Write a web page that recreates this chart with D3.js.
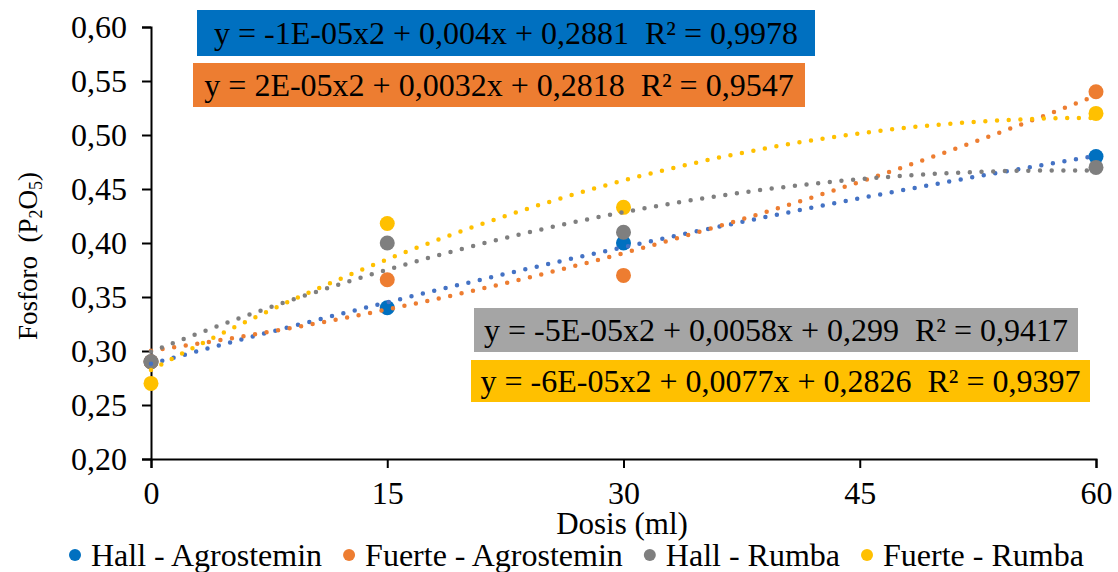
<!DOCTYPE html>
<html>
<head>
<meta charset="utf-8">
<script src="https://cdn.jsdelivr.net/npm/d3@7"></script>
<style>
  html, body { margin: 0; padding: 0; background: #fff; }
  svg { display: block; font-family: "Liberation Serif", "Times New Roman", serif; }
  text { white-space: pre; }
</style>
</head>
<body>
<svg id="chart" width="1118" height="572"></svg>
<script>
// Doses (ml) and phosphorus content per treatment
const doses = [0, 15, 30, 60];
const seriesNames = ["Hall - Agrostemin", "Fuerte - Agrostemin", "Hall - Rumba", "Fuerte - Rumba"];
const hallAgrostemin   = [0.29, 0.34, 0.40, 0.48];
const fuerteAgrostemin = [0.29, 0.366, 0.37, 0.54];
const hallRumba        = [0.29, 0.40, 0.41, 0.47];
const fuerteRumba      = [0.27, 0.418, 0.433, 0.52];
const xTicks = [0, 15, 30, 45, 60];
const yTicks = [0.20, 0.25, 0.30, 0.35, 0.40, 0.45, 0.50, 0.55, 0.60];
const equationLabels = [
  "y = -1E-05x2 + 0,004x + 0,2881  R² = 0,9978",
  "y = 2E-05x2 + 0,0032x + 0,2818  R² = 0,9547",
  "y = -5E-05x2 + 0,0058x + 0,299  R² = 0,9417",
  "y = -6E-05x2 + 0,0077x + 0,2826  R² = 0,9397"
];

const allSeries = [hallAgrostemin, fuerteAgrostemin, hallRumba, fuerteRumba];
const pointColors = ["#0070C0", "#ED7D31", "#7F7F7F", "#FFC000"];
const trendColors = ["#4472C4", "#ED7D31", "#7F7F7F", "#FFC000"];
const boxColors   = ["#0070C0", "#ED7D31", "#A5A5A5", "#FFC000"];

const svg = d3.select("#chart");
const x = d3.scaleLinear().domain([0, 60]).range([151, 1096]);
const y = d3.scaleLinear().domain([0.20, 0.60]).range([459, 27]);
const commaFmt = d => d3.format(".2f")(d).replace(".", ",");

// Axes
const yAxis = svg.append("g").attr("transform", `translate(${x(0)},0)`)
  .call(d3.axisLeft(y).tickValues(yTicks).tickSize(9).tickPadding(15).tickFormat(commaFmt));
const xAxis = svg.append("g").attr("transform", `translate(0,${y(0.20)})`)
  .call(d3.axisBottom(x).tickValues(xTicks).tickSize(9).tickPadding(13).tickFormat(d3.format("d")));
[yAxis, xAxis].forEach(g => {
  g.selectAll("path.domain").attr("stroke", "#000").attr("stroke-width", 2);
  g.selectAll(".tick line").attr("stroke", "#000").attr("stroke-width", 2);
  g.selectAll(".tick text").attr("fill", "#000").style("font-size", "32px")
    .style("font-family", "'Liberation Serif', 'Times New Roman', serif");
});

// Axis titles
svg.append("text").attr("x", 622).attr("y", 534).attr("text-anchor", "middle")
  .style("font-size", "31px").text("Dosis (ml)");

const yTitle = svg.append("text")
  .attr("transform", "translate(37,256) rotate(-90)")
  .attr("text-anchor", "middle").style("font-size", "27px");
yTitle.append("tspan").text("Fosforo  (P");
yTitle.append("tspan").attr("baseline-shift", "-25%").style("font-size", "18px").text("2");
yTitle.append("tspan").text("O");
yTitle.append("tspan").attr("baseline-shift", "-25%").style("font-size", "18px").text("5");
yTitle.append("tspan").text(")");

// Markers
allSeries.forEach((vals, i) => {
  svg.append("g").selectAll("circle").data(vals).join("circle")
    .attr("cx", (d, j) => x(doses[j])).attr("cy", d => y(d))
    .attr("r", 7.5).attr("fill", pointColors[i]);
});

// Second-order polynomial least-squares fit
function quadFit(xs, ys) {
  const n = xs.length;
  let s = [0, 0, 0, 0, 0], t = [0, 0, 0];
  for (let k = 0; k < n; k++) {
    let p = 1;
    for (let e = 0; e <= 4; e++) { s[e] += p; if (e <= 2) t[e] += p * ys[k]; p *= xs[k]; }
  }
  const M = [[s[0], s[1], s[2], t[0]], [s[1], s[2], s[3], t[1]], [s[2], s[3], s[4], t[2]]];
  for (let c = 0; c < 3; c++) {
    for (let r = c + 1; r < 3; r++) {
      const f = M[r][c] / M[c][c];
      for (let q = c; q < 4; q++) M[r][q] -= f * M[c][q];
    }
  }
  const b = [0, 0, 0];
  for (let r = 2; r >= 0; r--) {
    let v = M[r][3];
    for (let q = r + 1; q < 3; q++) v -= M[r][q] * b[q];
    b[r] = v / M[r][r];
  }
  return xv => b[0] + b[1] * xv + b[2] * xv * xv;
}

// Dotted trendlines
const line = d3.line().x(d => x(d[0])).y(d => y(d[1]));
allSeries.forEach((vals, i) => {
  const f = quadFit(doses, vals);
  const pts = d3.range(0, 60.01, 0.5).map(v => [v, f(v)]);
  svg.append("path").datum(pts).attr("d", line)
    .attr("fill", "none").attr("stroke", trendColors[i])
    .attr("stroke-width", 4.5).attr("stroke-linecap", "round")
    .attr("stroke-dasharray", "0 11.7");
});

// Equation labels
const boxes = [
  { x: 197, y: 10, w: 618, h: 46 },
  { x: 193, y: 63, w: 612, h: 44 },
  { x: 474, y: 308, w: 604, h: 44 },
  { x: 471, y: 360, w: 619, h: 42 }
];
equationLabels.forEach((txt, i) => {
  const b = boxes[i];
  svg.append("rect").attr("x", b.x).attr("y", b.y).attr("width", b.w).attr("height", b.h)
    .attr("fill", boxColors[i]);
  svg.append("text").attr("x", b.x + b.w / 2).attr("y", b.y + b.h / 2 + 11)
    .attr("xml:space", "preserve")
    .attr("text-anchor", "middle").style("font-size", "32px").attr("fill", "#000").text(txt);
});

// Legend
const legend = svg.append("g");
let lx = 75;
seriesNames.forEach((name, i) => {
  legend.append("circle").attr("cx", lx).attr("cy", 555).attr("r", 6).attr("fill", pointColors[i]);
  const t = legend.append("text").attr("x", lx + 16).attr("y", 566)
    .style("font-size", "32px").attr("fill", "#000").text(name);
  lx += 16 + t.node().getComputedTextLength() + 27;
});
</script>
</body>
</html>
